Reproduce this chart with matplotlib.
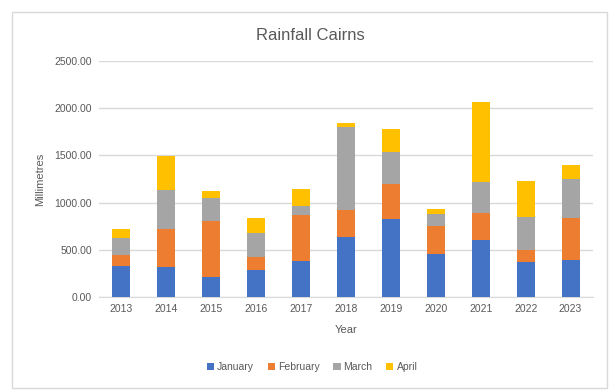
import matplotlib
matplotlib.use("Agg")
import matplotlib.pyplot as plt
from matplotlib.patches import Rectangle
import numpy as np

years = ["2013", "2014", "2015", "2016", "2017", "2018", "2019", "2020", "2021", "2022", "2023"]
january = [328, 318, 212, 286, 381, 636, 826, 455, 604, 371, 392]
february = [117, 402, 593, 138, 487, 285, 371, 297, 286, 127, 445]
march = [180, 417, 247, 254, 99, 879, 339, 127, 328, 349, 413]
april = [95, 357, 71, 159, 177, 43, 243, 53, 848, 382, 148]

series = [("January", january, "#4472C4"),
          ("February", february, "#ED7D31"),
          ("March", march, "#A5A5A5"),
          ("April", april, "#FFC000")]

plt.rcParams['font.family'] = ['Liberation Sans', 'DejaVu Sans']
txt = "#595959"

fig = plt.figure(figsize=(6.15, 3.92), dpi=100)
# chart area border
fig.patches.append(Rectangle((12 / 615, 4 / 392), 595 / 615, 376 / 392,
                             transform=fig.transFigure, fill=False,
                             edgecolor="#D9D9D9", linewidth=1))

ax = fig.add_axes([99 / 615, 1 - 297 / 392, 494 / 615, 236 / 392])
x = np.arange(len(years))
bottom = np.zeros(len(years))
for name, vals, col in series:
    ax.bar(x, vals, 0.4, bottom=bottom, color=col, label=name, zorder=3)
    bottom += np.array(vals)

ax.set_xlim(-0.5, len(years) - 0.5)
ax.set_ylim(0, 2500)
ax.set_yticks(np.arange(0, 2501, 500))
ax.set_yticklabels([f"{v:.2f}" for v in np.arange(0, 2501, 500)])
ax.set_xticks(x)
ax.set_xticklabels(years)
ax.grid(axis="y", color="#D9D9D9", linewidth=1, zorder=0)
for s in ["top", "right", "left"]:
    ax.spines[s].set_visible(False)
ax.spines["bottom"].set_color("#D9D9D9")
ax.tick_params(length=0, labelsize=7.5, colors=txt, pad=5)

fig.text(310 / 615, 1 - 35 / 392, "Rainfall Cairns", fontsize=12, color=txt,
         ha="center", va="center")
ax.set_xlabel("Year", fontsize=8, color=txt, labelpad=8)
ax.set_ylabel("Millimetres", fontsize=8, color=txt, labelpad=7)

fig.legend(loc="center", bbox_to_anchor=(312 / 615, 1 - 367 / 392), ncol=4, frameon=False,
           fontsize=7.5, labelcolor=txt, handlelength=0.7, handleheight=0.7,
           handletextpad=0.3, columnspacing=1.3)

plt.savefig("out.png", dpi=100)
